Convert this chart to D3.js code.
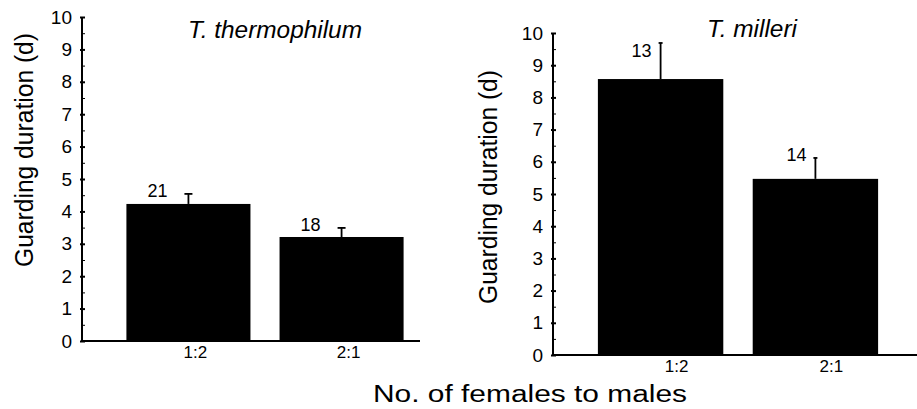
<!DOCTYPE html>
<html lang="en">
<head>
<meta charset="UTF-8">
<title>Guarding duration</title>
<style>
  body { margin: 0; background: #fff; }
  svg { display: block; font-family: "Liberation Sans", Arial, sans-serif; }
</style>
</head>
<body>
<div id="chart"></div>
<script src="https://d3js.org/d3.v7.min.js"></script>
<script>
// data
const ratios = ["1:2", "2:1"];
const species = ["T. thermophilum", "T. milleri"];
const thermoMean = [4.23, 3.21];
const thermoSE = [0.31, 0.28];
const thermoN = [21, 18];
const milleriMean = [8.57, 5.47];
const milleriSE = [1.12, 0.65];
const milleriN = [13, 14];
const yTicks = [0, 1, 2, 3, 4, 5, 6, 7, 8, 9, 10];

const W = 917, H = 409;

const svg = d3.select("#chart").append("svg")
  .attr("width", W)
  .attr("height", H);

// per panel layout
const panels = [
  { name: species[0], mean: thermoMean, se: thermoSE, n: thermoN,
    left: 82, right: 448, base: 341, top: 17, lineEnd: 420,
    capW: 8, nDx: -31, catDx: 7,
    titleX: 275, titleY: 38, titleLen: 174,
    yLabX: 33, yLabY: 150 },
  { name: species[1], mean: milleriMean, se: milleriSE, n: milleriN,
    left: 553, right: 923, base: 355, top: 33, lineEnd: 917,
    capW: 4, nDx: -19, catDx: 16,
    titleX: 752, titleY: 37, titleLen: 90,
    yLabX: 497, yLabY: 187 }
];

panels.forEach(function (p) {
  const x = d3.scaleBand()
    .domain(ratios)
    .range([p.left, p.right])
    .paddingInner(0.19)
    .paddingOuter(0.29);

  const y = d3.scaleLinear()
    .domain([0, 10])
    .range([p.base, p.top]);

  const g = svg.append("g");

  // bars
  g.selectAll(".bar")
    .data(ratios)
    .enter().append("rect")
    .attr("class", "bar")
    .attr("x", d => x(d))
    .attr("width", x.bandwidth())
    .attr("y", (d, i) => y(p.mean[i]))
    .attr("height", (d, i) => p.base - y(p.mean[i]))
    .attr("fill", "#000");

  // error bars (upper only)
  const cx = d => x(d) + x.bandwidth() / 2;
  g.selectAll(".err")
    .data(ratios)
    .enter().append("line")
    .attr("x1", cx).attr("x2", cx)
    .attr("y1", (d, i) => y(p.mean[i]))
    .attr("y2", (d, i) => y(p.mean[i] + p.se[i]))
    .attr("stroke", "#000")
    .attr("stroke-width", 1.8);

  g.selectAll(".cap")
    .data(ratios)
    .enter().append("line")
    .attr("x1", d => cx(d) - p.capW / 2)
    .attr("x2", d => cx(d) + p.capW / 2)
    .attr("y1", (d, i) => y(p.mean[i] + p.se[i]))
    .attr("y2", (d, i) => y(p.mean[i] + p.se[i]))
    .attr("stroke", "#000")
    .attr("stroke-width", 1.8);

  // sample sizes
  g.selectAll(".nlab")
    .data(ratios)
    .enter().append("text")
    .attr("x", d => cx(d) + p.nDx)
    .attr("y", (d, i) => Math.max(y(p.mean[i] + p.se[i]) + 3, p.top + 24))
    .attr("text-anchor", "middle")
    .style("font-size", "18px")
    .text((d, i) => p.n[i]);

  // y axis: labels + major ticks crossing, minor ticks on the right
  const ya = g.append("g")
    .attr("transform", `translate(${p.left},0)`)
    .call(d3.axisLeft(y).tickValues(yTicks).tickSize(2).tickPadding(8).tickFormat(d3.format("d")));
  ya.select(".domain").remove();
  ya.selectAll("text").style("font-size", "19px").attr("fill", "#000").style("font-family", null);
  ya.selectAll("line").attr("stroke-width", 2);

  const yr = g.append("g")
    .attr("transform", `translate(${p.left},0)`)
    .call(d3.axisRight(y).tickValues(yTicks).tickSize(3).tickFormat(""));
  yr.select(".domain").remove();
  yr.selectAll("line").attr("stroke-width", 2);

  const ym = g.append("g")
    .attr("transform", `translate(${p.left},0)`)
    .call(d3.axisRight(y).tickValues(yTicks.slice(0, -1).map(v => v + 0.5)).tickSize(3).tickFormat(""));
  ym.select(".domain").remove();
  ym.selectAll("line").attr("stroke-width", 1);

  g.append("line")
    .attr("x1", p.left).attr("x2", p.left)
    .attr("y1", y(10)).attr("y2", y(0))
    .attr("stroke", "#000").attr("stroke-width", 2);

  // baseline
  g.append("line")
    .attr("x1", p.left).attr("x2", p.lineEnd)
    .attr("y1", y(0)).attr("y2", y(0))
    .attr("stroke", "#000").attr("stroke-width", 2);

  // category labels
  const xa = g.append("g")
    .attr("transform", `translate(0,${p.base})`)
    .call(d3.axisBottom(x).tickSize(0).tickPadding(5));
  xa.select(".domain").remove();
  xa.selectAll("text")
    .attr("dx", p.catDx)
    .attr("fill", "#000")
    .style("font-family", null)
    .style("font-size", "17px");

  // title
  g.append("text")
    .attr("x", p.titleX)
    .attr("y", p.titleY)
    .attr("text-anchor", "middle")
    .attr("textLength", p.titleLen)
    .attr("lengthAdjust", "spacingAndGlyphs")
    .style("font-size", "23px")
    .style("font-style", "italic")
    .text(p.name);

  // y label
  g.append("text")
    .attr("transform", `translate(${p.yLabX},${p.yLabY}) rotate(-90)`)
    .attr("text-anchor", "middle")
    .attr("textLength", 234)
    .attr("lengthAdjust", "spacingAndGlyphs")
    .style("font-size", "25px")
    .text("Guarding duration (d)");
});

svg.append("text")
  .attr("x", 530)
  .attr("y", 402)
  .attr("text-anchor", "middle")
  .attr("textLength", 314)
  .attr("lengthAdjust", "spacingAndGlyphs")
  .style("font-size", "23px")
  .text("No. of females to males");
</script>
</body>
</html>
